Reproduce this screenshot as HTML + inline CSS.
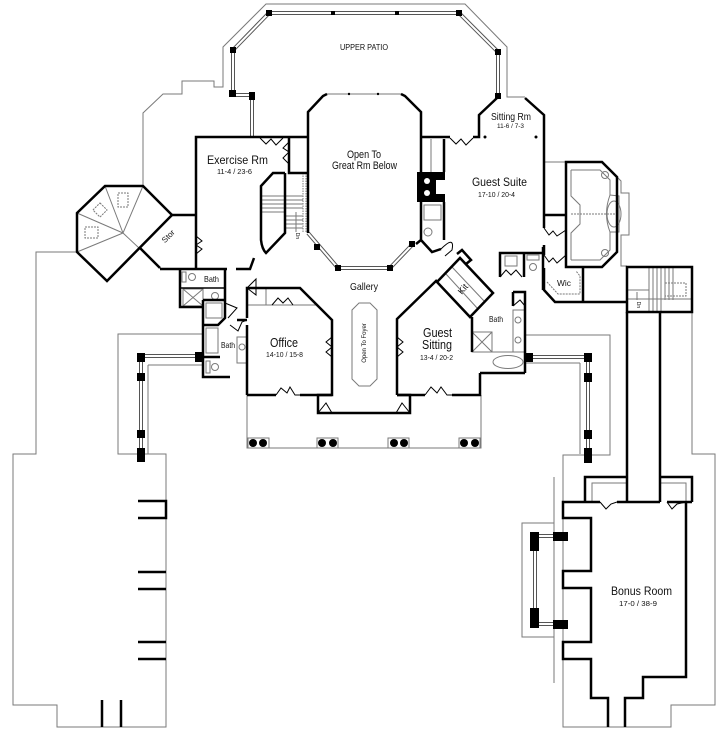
<!DOCTYPE html>
<html><head><meta charset="utf-8">
<style>
html,body{margin:0;padding:0;background:#fff;}
svg{display:block;}
text{font-family:"Liberation Sans",sans-serif;fill:#111;}
</style></head><body>
<svg width="725" height="731" viewBox="0 0 725 731" xmlns="http://www.w3.org/2000/svg">
<rect width="725" height="731" fill="#fff"/>

<!-- ============ THIN GRAY OUTLINES ============ -->
<g fill="none" stroke="#7a7a7a" stroke-width="1">
 <path d="M143,186 L143,113 L163,94 L182,94 L182,81 L214,81 L214,87 L223,87 L223,47 L266,4 L465,4 L507,47 L507,97 L525,97"/>
 <path d="M77,252 L36,252 L36,454 L13,454 L13,705 L57,705 L57,727 L166,727 L166,454 L118,454 L118,334 L203,334"/>
 <path d="M148,365 L203,365 M148,365 L148,454"/>
 <!-- front porch -->
 <path d="M247,395 L247,448 L481,448 L481,395"/>
 <rect x="248" y="438" width="21" height="10"/>
 <rect x="317" y="438" width="21" height="10"/>
 <rect x="388" y="438" width="21" height="10"/>
 <rect x="459" y="438" width="21" height="10"/>
 <!-- right porch / bonus outline -->
 <path d="M525,335 L610,335 L610,455 L563,455 L563,727 L671,727 L671,705 L715,705 L715,454 L692,454 L692,312"/>
 <path d="M580,363 L525,363 M580,363 L580,454"/>
 <rect x="522" y="523" width="32" height="114"/>
 <path d="M554,477 L554,683"/>
 <!-- guest bath outline -->
 <path d="M544,162 L566,162"/>
 <path d="M617,177 L621,181 L621,193 L629,193 L629,235 L621,235 L621,266 L627,266"/>
 <path d="M571,170 L600,170 L610,180 L610,195 M610,232 L610,250 L600,260 L571,260"/>
 <path d="M571,170 L571,196 L580,205 L580,224 L571,233 L571,260"/>
 <path d="M571,214 L617,214" stroke-dasharray="2,1"/>
 <path d="M610,195 Q603,214 610,232 L619,232 L619,196 Z"/>
 <ellipse cx="614" cy="214" rx="7" ry="13"/>
 <circle cx="605" cy="175" r="3.5"/>
 <circle cx="605" cy="253" r="3.5"/>
 <!-- turret radial lines -->
 <path d="M123,233 L105,186 M123,233 L143,186 M123,233 L77,213 M123,233 L77,252 M123,233 L139,248"/>
 <!-- stairs treads -->
 <path d="M261,196 L303,196 M261,200 L303,200 M261,204 L303,204 M261,208 L303,208 M261,212 L285,212 M285,216 L303,216 M285,220 L303,220 M285,224 L303,224 M285,228 L303,228"/>
 <path d="M303,173 L303,233 M306,173 L306,233" stroke-dasharray="1.5,1"/>
 <path d="M296,232 L296,212"/>
 <!-- right stair treads -->
 <path d="M649,268 L649,311 M653,268 L653,311 M657,268 L657,311 M661,268 L661,311 M665,268 L665,300 M669,268 L669,300 M673,268 L673,300"/>
 <path d="M627,290 L649,290 M627,299 L649,299 M649,299 L692,299"/>
 <rect x="665" y="283" width="21" height="13" stroke-dasharray="2,1"/>
 <path d="M637,300 L637,292"/>
 <!-- dashed squares in turret -->
 <rect x="118" y="193" width="10" height="14" stroke-dasharray="2,1"/>
 <rect x="85" y="227" width="13" height="11" stroke-dasharray="2,1"/>
 <rect x="95" y="205" width="10" height="10" stroke-dasharray="2,1" transform="rotate(45 100 210)"/>
 <!-- wic dashed -->
 <path d="M547,282 L558,294 L580,294 L580,276 L576,271" stroke-dasharray="2,1"/>
 <!-- kit inner lines -->
 <path d="M446,274 L478,309 M452,267 L485,302"/>
 <!-- bath fixtures -->
 <rect x="183" y="289" width="20" height="17"/>
 <path d="M183,289 L203,306 M203,289 L183,306"/>
 <circle cx="192" cy="277" r="3.5"/>
 <rect x="182" y="272" width="4" height="10"/>
 <circle cx="215" cy="296" r="3.5"/>
 <rect x="206" y="303" width="16" height="15"/>
 <rect x="206" y="328" width="12" height="25"/>
 <circle cx="215" cy="367" r="3.5"/>
 <rect x="206" y="361" width="4" height="12"/>
 <rect x="237" y="337" width="10" height="26"/>
 <circle cx="242" cy="347" r="3"/>
 <!-- fireplace side closet -->
 <rect x="424" y="205" width="17" height="15"/>
 <circle cx="428" cy="232" r="4"/>
 <path d="M431,139 L431,172"/>
 <!-- right bath fixtures -->
 <rect x="513" y="310" width="12" height="42"/>
 <circle cx="518" cy="320" r="3"/>
 <circle cx="518" cy="340" r="3"/>
 <rect x="472" y="332" width="20" height="20"/>
 <path d="M472,332 L492,352 M492,332 L472,352"/>
 <path d="M480,352 L525,352"/>
 <ellipse cx="508" cy="362" rx="15" ry="6.5"/>
 <rect x="505" y="256" width="12" height="10"/>
 <circle cx="533" cy="267" r="3.5"/>
 <rect x="527" y="255" width="12" height="5"/>
 <!-- open to foyer -->
 <path d="M359,303 L370,303 L377,310 L377,379 L370,386 L359,386 L352,379 L352,310 Z"/>
 <!-- office closet -->
 <path d="M247,305 L317,305 M266,288 L266,305"/>
 <!-- bonus boxes inner -->
 <path d="M592,502 L592,483 L626,483 M660,483 L686,483 L686,502"/>
 <!-- octagon top -->
 <path d="M327,94 L401,94"/>
</g>

<!-- ============ DOUBLE-LINE RAILS ============ -->
<g fill="none" stroke-linejoin="miter">
 <g stroke="#555" stroke-width="4">
  <path d="M252,137 L252,95 L233,95 L233,50 L269,13 L459,13 L498,52 L498,97"/>
  <path d="M308,233 L338,268 L390,268 L412,245"/>
  <path d="M200,356 L141,356 L141,455"/>
  <path d="M529,357 L588,357 L588,457"/>
  <path d="M568,536 L535,536 L535,624 L568,624"/>
 </g>
 <g stroke="#fff" stroke-width="2">
  <path d="M252,137 L252,95 L233,95 L233,50 L269,13 L459,13 L498,52 L498,97"/>
  <path d="M308,233 L338,268 L390,268 L412,245"/>
  <path d="M200,356 L141,356 L141,455"/>
  <path d="M529,357 L588,357 L588,457"/>
  <path d="M568,536 L535,536 L535,624 L568,624"/>
 </g>
</g>

<!-- ============ POSTS ============ -->
<g fill="#000">
 <rect x="229" y="90" width="7" height="7"/>
 <rect x="249" y="92" width="6" height="8"/>
 <rect x="230" y="47" width="6" height="6"/>
 <rect x="266" y="10" width="6" height="6"/>
 <rect x="331" y="11" width="4" height="4"/>
 <rect x="395" y="11" width="4" height="4"/>
 <rect x="456" y="10" width="6" height="6"/>
 <rect x="495" y="49" width="6" height="6"/>
 <rect x="495" y="93" width="6" height="6"/>
 <rect x="314" y="244" width="6" height="6"/>
 <rect x="335" y="265" width="6" height="6"/>
 <rect x="387" y="265" width="6" height="6"/>
 <rect x="409" y="241" width="6" height="6"/>
 <rect x="137" y="353" width="8" height="9"/>
 <rect x="137" y="373" width="8" height="8"/>
 <rect x="137" y="430" width="8" height="8"/>
 <rect x="137" y="448" width="8" height="14"/>
 <rect x="195" y="352" width="8" height="10"/>
 <rect x="525" y="353" width="8" height="9"/>
 <rect x="584" y="353" width="8" height="9"/>
 <rect x="584" y="373" width="8" height="9"/>
 <rect x="584" y="430" width="8" height="9"/>
 <rect x="584" y="448" width="8" height="15"/>
 <rect x="530" y="532" width="9" height="19"/>
 <rect x="553" y="532" width="15" height="9"/>
 <rect x="530" y="608" width="9" height="20"/>
 <rect x="553" y="620" width="15" height="9"/>
 <circle cx="253" cy="443" r="4"/><circle cx="263" cy="443" r="4"/>
 <circle cx="322" cy="443" r="4"/><circle cx="333" cy="443" r="4"/>
 <circle cx="394" cy="443" r="4"/><circle cx="404" cy="443" r="4"/>
 <circle cx="464" cy="443" r="4"/><circle cx="475" cy="443" r="4"/>
 <circle cx="349" cy="94" r="1.2"/><circle cx="378" cy="94" r="1.2"/>
 <circle cx="485" cy="137" r="1.5"/><circle cx="536" cy="137" r="1.5"/>
 <!-- fireplace -->
 <path d="M417,172 L445,172 L445,180 L436,180 L436,194 L445,194 L445,202 L417,202 Z"/>
</g>
<g fill="#fff"><circle cx="427" cy="181" r="3"/><circle cx="427" cy="193" r="3"/></g>

<!-- ============ THICK WALLS ============ -->
<g fill="none" stroke="#000" stroke-width="2.5" stroke-linejoin="miter">
 <!-- exercise -->
 <path d="M196,268 L196,137 L308,137"/>
 <path d="M160,269 L227,269 M236,269 L250,269 L254,258"/>
 <path d="M289,137 L289,173 L308,173"/>
 <!-- turret + stor -->
 <path d="M105,186 L143,186 L172,215 L107,281 L77,252 L77,213 Z"/>
 <path d="M172,215 L196,215 M140,248 L160,268"/>
 <!-- stairs -->
 <path d="M285,173 L273,173 L261,186 L261,240 Q262,249 266,253 L285,233 L285,173"/>
 <!-- octagon -->
 <path d="M308,233 L308,112 L323,96 L327,94"/>
 <path d="M401,94 L405,96 L421,112 L421,172"/>
 <path d="M421,202 L421,240 L416,244 M421,240 L432,252 L441,249"/>
 <path d="M444,139 L444,172 M444,202 L444,240"/>
 <!-- guest suite -->
 <path d="M421,137 L450,137 M473,137 L479,137 L479,115 L497,98 M525,98 L544,115 L544,228"/>
 <path d="M544,245 L544,255 M544,268 L544,290 L555,302 L627,302"/>
 <path d="M544,215 L566,215"/>
 <path d="M566,162 L602,162 L617,177 L617,252 L602,267 L566,267 Z"/>
 <path d="M583,267 L583,302"/>
 <!-- right stair box -->
 <path d="M627,267 L692,267 L692,312 L627,312 Z"/>
 <path d="M627,312 L627,502 M660,312 L660,502"/>
 <!-- bonus -->
 <path d="M585,502 L585,477 L626,477 M660,477 L692,477 L692,502"/>
 <path d="M608,727 L608,698 L591,698 L591,659 L563,659 L563,642 L591,642 L591,588 L563,588 L563,571 L591,571 L591,518 L563,518 L563,502 L600,502 M617,502 L660,502 M667,502 L692,502"/>
 <path d="M686,502 L686,677 L643,677 L643,698 L625,698 L625,727"/>
 <!-- small rooms right -->
 <path d="M500,277 L500,253 L524,253 L524,277 M524,253 L543,253 M543,247 L543,290"/>
 <path d="M513,292 L525,292 L525,373 M513,292 L513,306"/>
 <!-- kit -->
 <path d="M437,282 L460,258 L493,293 L470,317 Z"/>
 <path d="M457,254 L462,250 L471,260 L466,264"/>
 <!-- guest sitting -->
 <path d="M397,395 L397,319 L437,280"/>
 <path d="M472,317 L472,352 M480,373 L480,395 L452,395 M425,395 L397,395"/>
 <path d="M480,373 L525,373"/>
 <!-- foyer -->
 <path d="M332,395 L318,395 L318,413 L410,413 L410,395 L397,395"/>
 <!-- office -->
 <path d="M247,395 L247,325 M247,318 L247,288 L300,288 L332,320 L332,395 L300,395 M276,395 L247,395"/>
 <!-- left baths -->
 <path d="M180,269 L180,307 L203,307 M225,269 L225,318 L218,325 L203,325"/>
 <path d="M203,300 L225,300 M203,300 L203,377 L230,377 M203,357 L220,357"/>
 <path d="M237,320 L247,320"/>
 <path d="M180,288 L225,288" stroke-width="1.5"/>
 <!-- garage bars -->
 <path d="M138,501 L166,501 L166,518 L138,518"/>
 <path d="M138,572 L166,572 M166,589 L138,589"/>
 <path d="M138,642 L166,642 M166,659 L138,659"/>
 <path d="M102,700 L102,727 M121,700 L121,727"/>
</g>

<!-- ============ DOOR ZIGZAGS (thin) ============ -->
<g fill="none" stroke="#000" stroke-width="1">
 <path d="M260,138 L266,144 L271,139 L276,145 L283,138"/>
 <path d="M289,142 L283,148 L289,152 L283,158 L289,164"/>
 <path d="M196,236 L202,241 L196,245 L202,249 L196,254"/>
 <path d="M450,138 L456,144 L461,139 L466,145 L473,138"/>
 <path d="M544,228 L549,235 L553,231 L557,236 L566,230"/>
 <path d="M544,255 L549,262 L553,258 L557,263 L566,255"/>
 <path d="M332,337 L326,342 L332,347 L326,352 L332,357"/>
 <path d="M397,337 L403,342 L397,347 L403,352 L397,357"/>
 <path d="M276,395 L281,388 L287,393 L290,387 L295,395 L300,395"/>
 <path d="M425,395 L431,387 L437,393 L441,387 L447,395 L452,395"/>
 <path d="M272,305 L278,298 L283,303 L288,298 L293,305"/>
 <path d="M500,277 L506,270 L511,275 L516,270 L522,277"/>
 <path d="M600,502 L606,509 L611,504 L617,502"/>
 <path d="M667,502 L672,509 L677,504 L686,502"/>
 <path d="M318,413 L326,403 L332,413 M410,413 L402,403 L396,413"/>
 <path d="M247,288 L256,279 L256,295 Z"/>
 <path d="M441,249 Q455,235 452,250 L445,256"/>
 <path d="M225,303 L237,308 L228,318"/>
 <path d="M230,325 L238,331 L242,322 L247,320"/>
 <path d="M513,306 L520,300 L525,306"/>
</g>

<!-- ============ TEXT ============ -->
<g>
 <text x="207" y="164" font-size="12" textLength="61" lengthAdjust="spacingAndGlyphs">Exercise Rm</text>
 <text x="217" y="174" font-size="7.5" textLength="35" lengthAdjust="spacingAndGlyphs">11-4 / 23-6</text>
 <text x="340" y="50" font-size="8" textLength="48" lengthAdjust="spacingAndGlyphs">UPPER PATIO</text>
 <text x="347" y="158" font-size="11" textLength="34" lengthAdjust="spacingAndGlyphs">Open To</text>
 <text x="332" y="169" font-size="11" textLength="65" lengthAdjust="spacingAndGlyphs">Great Rm Below</text>
 <text x="491" y="120" font-size="10" textLength="40" lengthAdjust="spacingAndGlyphs">Sitting Rm</text>
 <text x="497" y="128" font-size="6.5" textLength="27" lengthAdjust="spacingAndGlyphs">11-6 / 7-3</text>
 <text x="472" y="186" font-size="12" textLength="55" lengthAdjust="spacingAndGlyphs">Guest Suite</text>
 <text x="478" y="197" font-size="7.5" textLength="37" lengthAdjust="spacingAndGlyphs">17-10 / 20-4</text>
 <text x="350" y="290" font-size="10.5" textLength="28" lengthAdjust="spacingAndGlyphs">Gallery</text>
 <text x="270" y="347" font-size="13" textLength="28" lengthAdjust="spacingAndGlyphs">Office</text>
 <text x="266" y="357" font-size="7.5" textLength="37" lengthAdjust="spacingAndGlyphs">14-10 / 15-8</text>
 <text x="423" y="337" font-size="13" textLength="29" lengthAdjust="spacingAndGlyphs">Guest</text>
 <text x="422" y="349" font-size="13" textLength="30" lengthAdjust="spacingAndGlyphs">Sitting</text>
 <text x="420" y="360" font-size="7.5" textLength="33" lengthAdjust="spacingAndGlyphs">13-4 / 20-2</text>
 <text x="204" y="282" font-size="8.5" textLength="15" lengthAdjust="spacingAndGlyphs">Bath</text>
 <text x="221" y="348" font-size="8.5" textLength="14" lengthAdjust="spacingAndGlyphs">Bath</text>
 <text x="489" y="322" font-size="8.5" textLength="14" lengthAdjust="spacingAndGlyphs">Bath</text>
 <text x="557" y="286" font-size="8.5" textLength="14" lengthAdjust="spacingAndGlyphs">Wic</text>
 <text x="611" y="595" font-size="12" textLength="61" lengthAdjust="spacingAndGlyphs">Bonus Room</text>
 <text x="619" y="606" font-size="7.5" textLength="38" lengthAdjust="spacingAndGlyphs">17-0 / 38-9</text>
 <text x="168" y="239" font-size="8" text-anchor="middle" transform="rotate(-45 168 236)">Stor</text>
 <text x="463" y="292" font-size="9" text-anchor="middle" transform="rotate(-50 463 289)">Kit</text>
 <text x="366" y="347" font-size="6" text-anchor="middle" transform="rotate(-90 364 345)">Open To Foyer</text>
 <text x="296" y="236" font-size="5" text-anchor="middle" transform="rotate(90 296 236)">Dn</text>
 <text x="637" y="305" font-size="5" text-anchor="middle" transform="rotate(90 637 305)">Dn</text>
</g>
</svg>
</body></html>
